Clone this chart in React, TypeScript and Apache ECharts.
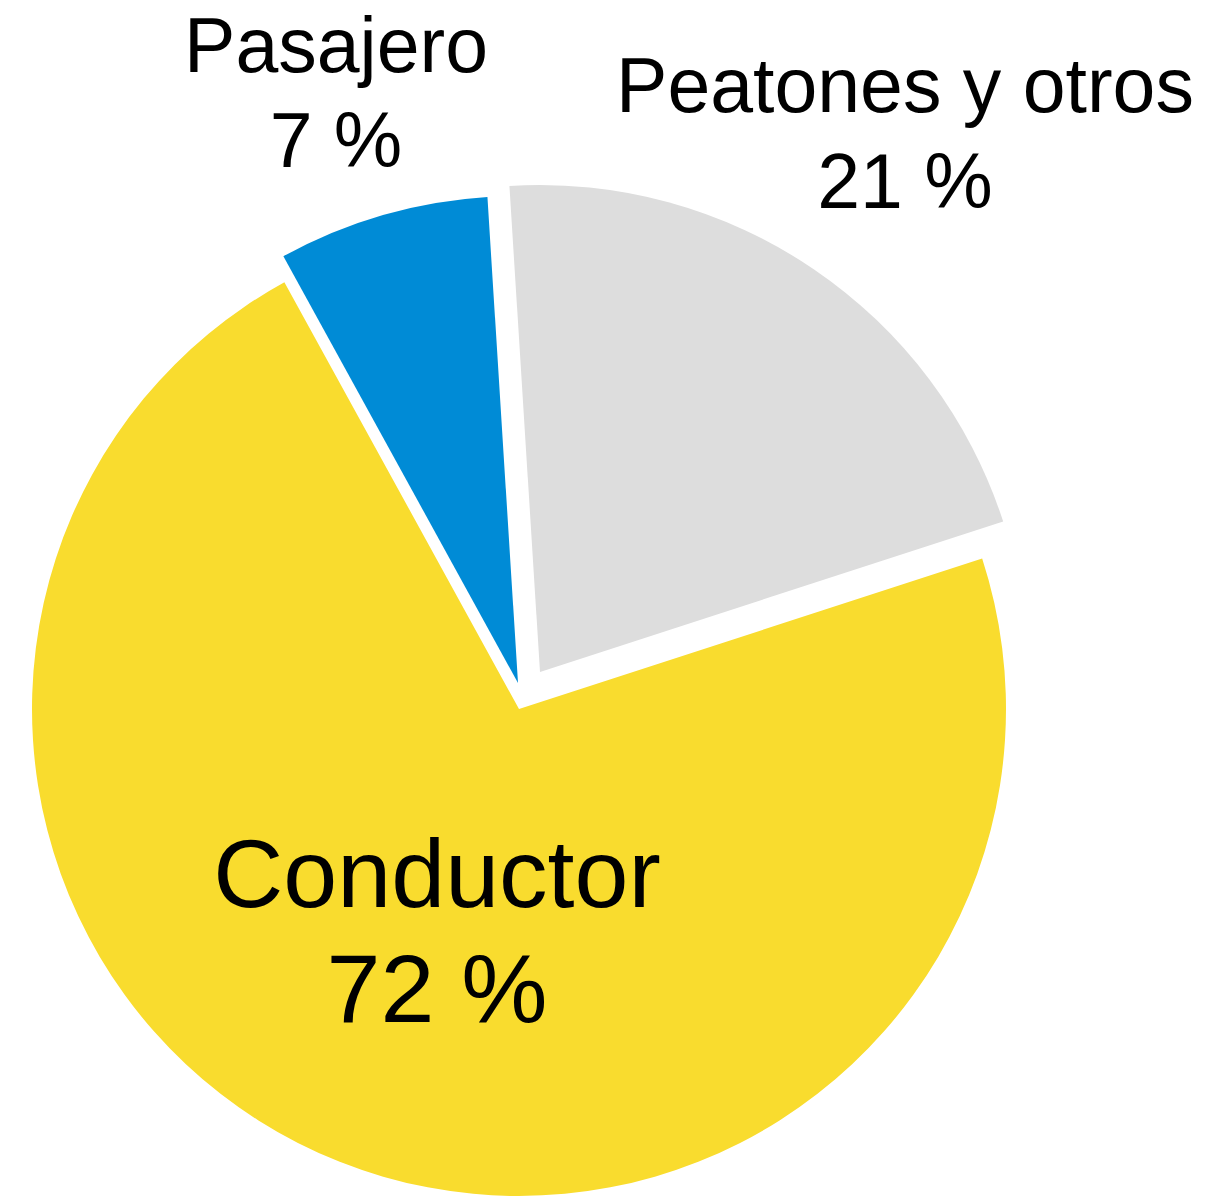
import React, { useEffect, useRef } from "react";
import * as echarts from "echarts";

// Data (clockwise from just left of 12 o'clock)
const categories = ["Peatones y otros", "Conductor", "Pasajero"];
const values = [21, 72, 7];
const colors = ["#DDDDDD", "#F9DC2E", "#008BD6"];

// Layout (pixels): each slice is pulled out separately
const sliceCenters: [number, number][] = [
  [540, 672],
  [519, 709],
  [518, 683],
];
const labelCenters: [number, number][] = [
  [905, 133],
  [437, 931],
  [336, 92],
];
const labelSizes = [77, 97, 77];
const labelLineHeights = [96, 115, 95];

export default function App() {
  const ref = useRef<HTMLDivElement>(null);

  useEffect(() => {
    if (!ref.current) return;
    const chart = echarts.init(ref.current, null, { renderer: "svg" });

    const series = categories.map((_, visible) => ({
      type: "pie",
      silent: true,
      radius: 487,
      center: sliceCenters[visible],
      startAngle: 93.6,
      clockwise: true,
      avoidLabelOverlap: false,
      labelLine: { show: false },
      emphasis: { disabled: true },
      label: {
        show: true,
        position: "inside",
        formatter: "{b}\n{c} %",
        color: "#000",
        fontFamily: "'Liberation Sans', Arial, Helvetica, sans-serif",
        fontSize: labelSizes[visible],
        lineHeight: labelLineHeights[visible],
        align: "center",
      },
      labelLayout: {
        x: labelCenters[visible][0],
        y: labelCenters[visible][1],
        align: "center",
        verticalAlign: "middle",
      },
      data: categories.map((name, i) => ({
        name,
        value: values[i],
        itemStyle: { color: i === visible ? colors[i] : "transparent" },
        label: { show: i === visible },
      })),
    }));

    chart.setOption({
      animation: false,
      backgroundColor: "#ffffff",
      series,
    });

    return () => chart.dispose();
  }, []);

  return (
    <div
      ref={ref}
      style={{ position: "absolute", left: 0, top: 0, width: 1215, height: 1198 }}
    />
  );
}
